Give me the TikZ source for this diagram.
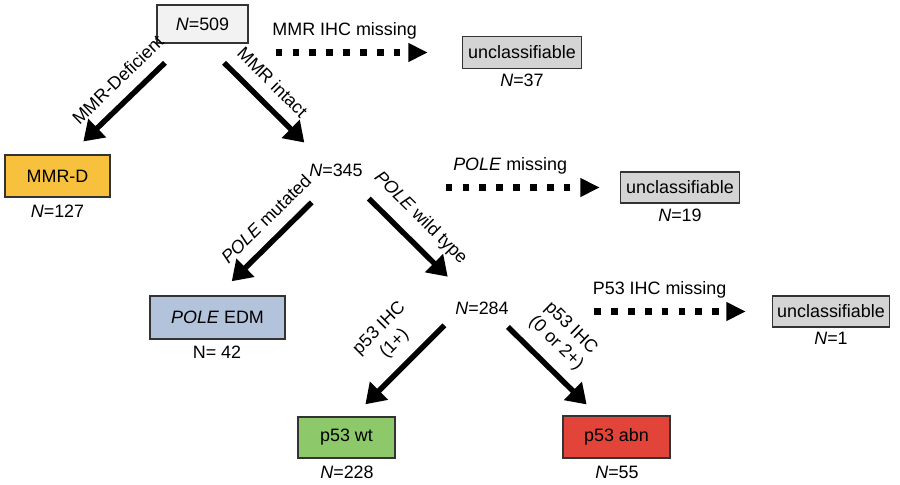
\documentclass[tikz,border=0pt]{standalone}
\usepackage{fontspec}
\setmainfont{Liberation Sans}
\usetikzlibrary{arrows.meta}

\definecolor{boxline}{HTML}{333333}
\definecolor{startcol}{HTML}{F2F2F2}
\definecolor{unclcol}{HTML}{D4D4D4}
\definecolor{mmrdcol}{HTML}{F7C13E}
\definecolor{polecol}{HTML}{B3C3DC}
\definecolor{wtcol}{HTML}{8DC86A}
\definecolor{abncol}{HTML}{E2443A}

\begin{document}
\begin{tikzpicture}[x=0.02cm,y=-0.02cm,font=\fontsize{10.2}{12.2}\selectfont]
    \useasboundingbox (0,0) rectangle (900,484);
    % boxes
    \begin{scope}[every node/.style={rectangle,draw=boxline,line width=0.8pt,inner sep=0pt}]
      \node[fill=startcol,minimum width=1.82cm,minimum height=0.76cm] (n509) at (202.5,24) {\textit{N}=509};
      \node[fill=unclcol,minimum width=2.38cm,minimum height=0.64cm] (unc1) at (522,52.5) {unclassifiable};
      \node[fill=mmrdcol,minimum width=2.1cm,minimum height=0.84cm] (mmrd) at (57.5,176) {MMR-D};
      \node[fill=unclcol,minimum width=2.38cm,minimum height=0.62cm] (unc2) at (680,187.5) {unclassifiable};
      \node[fill=polecol,minimum width=2.7cm,minimum height=0.86cm] (pole) at (217.5,317.5) {\textit{POLE} EDM};
      \node[fill=unclcol,minimum width=2.34cm,minimum height=0.62cm] (unc3) at (831,311.5) {unclassifiable};
      \node[fill=wtcol,minimum width=1.94cm,minimum height=0.82cm] (wt) at (346.5,437.5) {p53 wt};
      \node[fill=abncol,minimum width=2.14cm,minimum height=0.84cm] (abn) at (616.5,437) {p53 abn};
    \end{scope}
    % counts
    \begin{scope}[every node/.style={inner sep=1pt}]
      \node (n345) at (336,170) {\textit{N}=345};
      \node (n284) at (482,308) {\textit{N}=284};
      \node (c37) at (522,80) {\textit{N}=37};
      \node (c127) at (57.5,211) {\textit{N}=127};
      \node (c19) at (680,215) {\textit{N}=19};
      \node (c42) at (217,352) {N= 42};
      \node (c1) at (831,338) {\textit{N}=1};
      \node (c228) at (347,472) {\textit{N}=228};
      \node (c55) at (617,472) {\textit{N}=55};
    \end{scope}
    % solid arrows
    \begin{scope}[every edge/.style={draw,line width=3.1pt,-{Triangle[length=11pt,width=14pt]}},
      every node/.style={sloped,above=3pt,align=center}]
      \path (n509.228) edge[shorten <=0.55cm,shorten >=0.37cm] node[pos=0.46] {MMR-Deficient} (mmrd.60);
      \path (n509.277) edge[shorten <=0.54cm,shorten >=0.54cm] node[pos=0.45] {MMR intact} (n345.146);
      \path (n345.south) edge[shorten <=0.68cm,shorten >=0.4cm] node[pos=0.47] {\textit{POLE} mutated} (pole.north);
      \path (n345.326) edge[shorten <=0.57cm,shorten >=0.65cm] node[pos=0.46] {\textit{POLE} wild type} (n284.143);
      \path (n284.south west) edge[shorten <=0.25cm,shorten >=0.34cm] node[pos=0.43] {p53 IHC\\(1+)} (wt.72);
      \path (n284.331) edge[shorten <=0.3cm,shorten >=0.31cm] node[pos=0.43] {p53 IHC\\(0 or 2+)} (abn.131);
    \end{scope}
    % dashed arrows
    \begin{scope}[every edge/.style={draw,line width=3.8pt,dash pattern=on 3.8pt off 5.8pt,-{Triangle[length=11pt,width=10pt]}}]
      \path (n509.east |- unc1.west) edge[shorten <=0.54cm,shorten >=0.68cm] node[pos=0.45,above=2.5pt] {MMR IHC missing} (unc1.west);
      \path (n345.east |- unc2.west) edge[shorten <=1.62cm,shorten >=0.4cm] node[pos=0.57,above=2.5pt] {\textit{POLE} missing} (unc2.west);
      \path (n284.east |- unc3.west) edge[shorten <=1.67cm,shorten >=0.52cm] node[pos=0.57,above=2.5pt] {P53 IHC missing} (unc3.west);
    \end{scope}
  \end{tikzpicture}
\end{document}
